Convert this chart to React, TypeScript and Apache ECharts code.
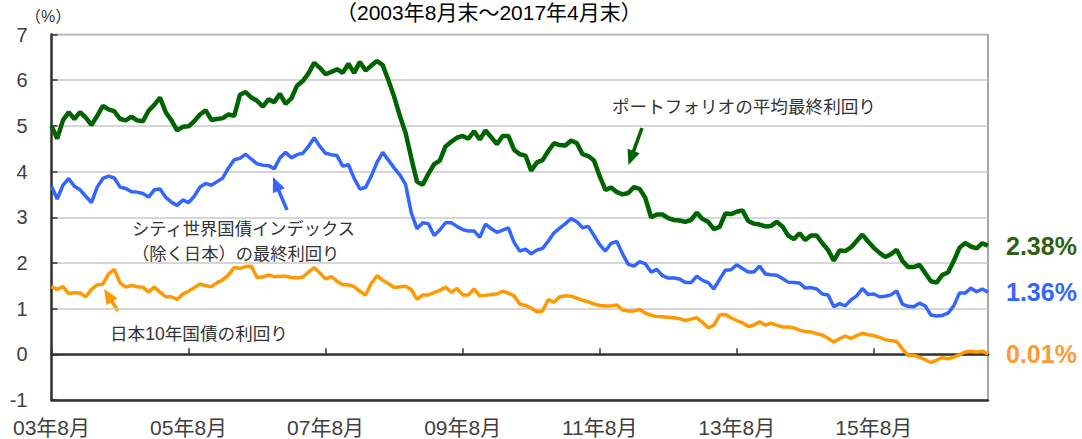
import React, { useEffect, useRef } from "react";
import * as echarts from "echarts";

// Monthly categories, 2003-08 .. 2017-04
const categories: string[] = [];
for (let y = 2003, m = 8; y < 2017 || (y === 2017 && m <= 4); ) {
  categories.push(`${String(y % 100).padStart(2, "0")}年${m}月`);
  m++;
  if (m > 12) { m = 1; y++; }
}

const portfolio = [
  5.0, 4.72, 5.12, 5.3, 5.15, 5.3, 5.18, 5.02, 5.22, 5.44,
  5.36, 5.32, 5.15, 5.12, 5.2, 5.12, 5.1, 5.33, 5.46, 5.62,
  5.3, 5.12, 4.9, 4.98, 4.99, 5.1, 5.25, 5.34, 5.13, 5.15,
  5.17, 5.25, 5.22, 5.68, 5.74, 5.62, 5.55, 5.42, 5.58, 5.52,
  5.7, 5.48, 5.6, 5.88, 5.98, 6.15, 6.38, 6.27, 6.13, 6.18,
  6.24, 6.16, 6.36, 6.16, 6.4, 6.21, 6.32, 6.42, 6.33, 6.0,
  5.64, 5.22, 4.85, 4.3, 3.78, 3.71, 3.95, 4.16, 4.24, 4.55,
  4.65, 4.74, 4.78, 4.72, 4.88, 4.7, 4.9, 4.75, 4.6, 4.78,
  4.78, 4.48, 4.38, 4.35, 4.02, 4.2, 4.25, 4.45, 4.62, 4.58,
  4.57, 4.68, 4.62, 4.38, 4.34, 4.24, 3.9, 3.6, 3.65, 3.55,
  3.5, 3.53, 3.66, 3.62, 3.42, 3.0, 3.06, 3.06, 2.98, 2.94,
  2.93, 2.9, 2.94, 3.1, 2.96, 2.9, 2.74, 2.79, 3.08, 3.07,
  3.12, 3.15, 2.92, 2.86, 2.84, 2.8, 2.81, 2.9, 2.8, 2.6,
  2.52, 2.65, 2.5, 2.6, 2.6, 2.43, 2.28, 2.05, 2.27, 2.26,
  2.34, 2.48, 2.62, 2.47, 2.33, 2.22, 2.13, 2.19, 2.29, 2.05,
  1.91, 1.91, 1.96, 1.78, 1.6, 1.57, 1.74, 1.79, 2.04, 2.33,
  2.44, 2.36, 2.32, 2.43, 2.38,
];

const citiWgbi = [
  3.68, 3.4, 3.7, 3.85, 3.68, 3.6, 3.46, 3.32, 3.66, 3.85,
  3.9, 3.86, 3.66, 3.63, 3.56, 3.55, 3.52, 3.44, 3.6, 3.62,
  3.44, 3.33, 3.26, 3.38, 3.32, 3.46, 3.66, 3.74, 3.7, 3.78,
  3.86, 4.08, 4.26, 4.29, 4.38, 4.27, 4.17, 4.14, 4.13, 4.06,
  4.3, 4.42, 4.3, 4.37, 4.4, 4.55, 4.74, 4.55, 4.4, 4.37,
  4.35, 4.12, 4.15, 3.85, 3.62, 3.65, 3.9, 4.2, 4.42, 4.25,
  4.08, 3.93, 3.72, 3.1, 2.75, 2.88, 2.86, 2.6, 2.72, 2.88,
  2.88, 2.8, 2.73, 2.7, 2.7, 2.56, 2.85, 2.75, 2.67, 2.72,
  2.77, 2.45, 2.26, 2.3, 2.2, 2.28, 2.32, 2.48, 2.66, 2.76,
  2.86, 2.97, 2.9, 2.77, 2.8, 2.6, 2.4, 2.26, 2.43, 2.47,
  2.2, 1.97, 1.93, 2.03, 1.98, 1.8, 1.86, 1.72, 1.67, 1.67,
  1.65, 1.57, 1.57, 1.71, 1.62, 1.57, 1.43, 1.64, 1.84, 1.85,
  1.96, 1.88, 1.8, 1.8, 1.93, 1.76, 1.74, 1.73, 1.66, 1.58,
  1.57, 1.56, 1.45, 1.46, 1.43, 1.32, 1.3, 1.04, 1.11, 1.06,
  1.19, 1.28, 1.44, 1.31, 1.32, 1.26, 1.27, 1.3, 1.39, 1.1,
  1.05, 1.04, 1.12, 1.06, 0.86, 0.84, 0.85, 0.9, 1.06, 1.34,
  1.34, 1.45, 1.37, 1.43, 1.36,
];

const jgb10y = [
  1.48, 1.42, 1.48, 1.33, 1.35, 1.34, 1.26, 1.42, 1.52, 1.54,
  1.76, 1.86, 1.56, 1.47, 1.51, 1.48, 1.47, 1.36, 1.47, 1.36,
  1.26, 1.26, 1.2, 1.32, 1.38, 1.46, 1.54, 1.5, 1.48, 1.57,
  1.63, 1.74, 1.9, 1.88, 1.92, 1.93, 1.68, 1.69, 1.74, 1.7,
  1.71, 1.71, 1.68, 1.67, 1.69, 1.8, 1.9, 1.78, 1.65, 1.7,
  1.6, 1.52, 1.52, 1.48, 1.38, 1.3, 1.55, 1.72, 1.62, 1.55,
  1.46, 1.48, 1.49, 1.42, 1.2, 1.3, 1.3, 1.35, 1.4, 1.47,
  1.36, 1.44, 1.3, 1.3, 1.43, 1.28, 1.29, 1.31, 1.32, 1.38,
  1.34, 1.28, 1.1, 1.07, 1.01, 0.93, 0.95, 1.2, 1.14, 1.26,
  1.28, 1.27, 1.23, 1.18, 1.15, 1.1, 1.07, 1.06, 1.06, 1.08,
  0.97, 0.95, 0.95, 0.98, 0.9, 0.85, 0.83, 0.82, 0.81, 0.8,
  0.78, 0.74, 0.77, 0.8, 0.7, 0.58, 0.64, 0.86, 0.87, 0.8,
  0.74, 0.69, 0.61, 0.64, 0.71, 0.64, 0.68, 0.64, 0.6, 0.6,
  0.58, 0.53, 0.5, 0.49, 0.45, 0.42, 0.35, 0.27, 0.34, 0.4,
  0.35, 0.41, 0.46, 0.43, 0.41, 0.37, 0.32, 0.3, 0.28, 0.12,
  -0.02, -0.02, -0.06, -0.12, -0.18, -0.13, -0.07, -0.1, -0.06, -0.01,
  0.05, 0.07, 0.05, 0.07, 0.01,
];

const yTicks = { min: -1, max: 7, interval: 1 };

const GREEN = "#006400";
const BLUE = "#3366ff";
const ORANGE = "#ff9900";
const FONT = "'Liberation Sans', 'Noto Sans CJK JP', sans-serif";
const JFONT = "'Noto Sans CJK JP', 'Liberation Sans', sans-serif";

function arrow(x1: number, y1: number, x2: number, y2: number, color: string) {
  const dx = x2 - x1, dy = y2 - y1;
  const len = Math.hypot(dx, dy);
  const ux = dx / len, uy = dy / len;
  const hl = 15, hw = 6.5;
  const bx = x2 - ux * hl, by = y2 - uy * hl;
  return [
    { type: "line", shape: { x1, y1, x2: bx + ux * 2, y2: by + uy * 2 }, style: { stroke: color, lineWidth: 3.5 } },
    {
      type: "polygon",
      shape: { points: [[x2, y2], [bx - uy * hw, by + ux * hw], [bx + uy * hw, by - ux * hw]] },
      style: { fill: color },
    },
  ];
}

function txt(text: string, x: number, y: number, size: number, color = "#333", family = JFONT) {
  return {
    type: "text",
    x, y,
    style: { text, fill: color, font: `${size}px ${family}`, textAlign: "left", textVerticalAlign: "middle" },
  };
}

export default function App() {
  const ref = useRef<HTMLDivElement>(null);
  useEffect(() => {
    if (!ref.current) return;
    const chart = echarts.init(ref.current, undefined, { renderer: "svg" });
    const endLabel = (color: string) => ({
      show: true,
      formatter: (p: any) => `${Number(p.value).toFixed(2)}%`,
      distance: 18,
      color,
      fontSize: 25,
      fontWeight: "bold",
      fontFamily: FONT,
    });
    chart.setOption({
      animation: false,
      backgroundColor: "#fff",
      grid: {
        left: 51.5, right: 94, top: 34.5, bottom: 39,
        show: true, borderColor: "#8a8a8a", borderWidth: 1.5, backgroundColor: "transparent",
      },
      xAxis: [
        {
          type: "category", data: categories, boundaryGap: false, position: "bottom",
          axisLine: { onZero: false, lineStyle: { color: "#333", width: 2.5 } },
          axisTick: { show: false },
          axisLabel: { interval: 23, color: "#404040", fontSize: 21, fontFamily: FONT, margin: 17 },
          splitLine: { show: false },
        },
        {
          type: "category", data: categories, boundaryGap: false, position: "bottom",
          axisLine: { onZero: true, lineStyle: { color: "#333", width: 2.5 } },
          axisTick: { show: true, inside: true, interval: 23, length: 6, lineStyle: { color: "#333", width: 1.5 } },
          axisLabel: { show: false },
          splitLine: { show: false },
        },
      ],
      yAxis: {
        type: "value", ...yTicks,
        axisLine: { show: true, lineStyle: { color: "#333", width: 2.5 } },
        axisTick: { show: true, inside: true, length: 6, lineStyle: { color: "#333", width: 1.5 } },
        axisLabel: { color: "#404040", fontSize: 20, fontFamily: FONT, margin: 24 },
        splitLine: { lineStyle: { color: "#c8c8c8", width: 1.5 } },
      },
      series: [
        {
          name: "日本10年国債の利回り", type: "line", data: jgb10y, showSymbol: false, symbol: "none",
          lineStyle: { color: ORANGE, width: 3.5 }, itemStyle: { color: ORANGE },
          endLabel: endLabel("#ff9933"), z: 2,
        },
        {
          name: "シティ世界国債インデックス（除く日本）の最終利回り", type: "line", data: citiWgbi, showSymbol: false, symbol: "none",
          lineStyle: { color: BLUE, width: 3.5 }, itemStyle: { color: BLUE },
          endLabel: endLabel(BLUE), z: 3,
        },
        {
          name: "ポートフォリオの平均最終利回り", type: "line", data: portfolio, showSymbol: false, symbol: "none",
          lineStyle: { color: GREEN, width: 4.5 }, itemStyle: { color: GREEN },
          endLabel: endLabel("#2f5f10"), z: 4,
        },
      ],
      graphic: [
        txt("（2003年8月末～2017年4月末）", 336, 12, 21, "#000", FONT),
        txt("（%）", 25, 16, 16, "#333", FONT),
        txt("ポートフォリオの平均最終利回り", 612, 105, 17.6),
        txt("シティ世界国債インデックス", 132, 227, 17.3),
        txt("（除く日本）の最終利回り", 132, 252, 17.3),
        txt("日本10年国債の利回り", 110, 334, 17.6, "#333", FONT),
        ...arrow(642, 128, 628.5, 165, GREEN),
        ...arrow(287, 210, 273, 177, BLUE),
        ...arrow(118, 311, 104, 289, ORANGE),
      ],
    });
    return () => chart.dispose();
  }, []);
  return (
    <div
      ref={ref}
      style={{ position: "fixed", left: 0, top: 0, width: 1082, height: 439 }}
    />
  );
}
